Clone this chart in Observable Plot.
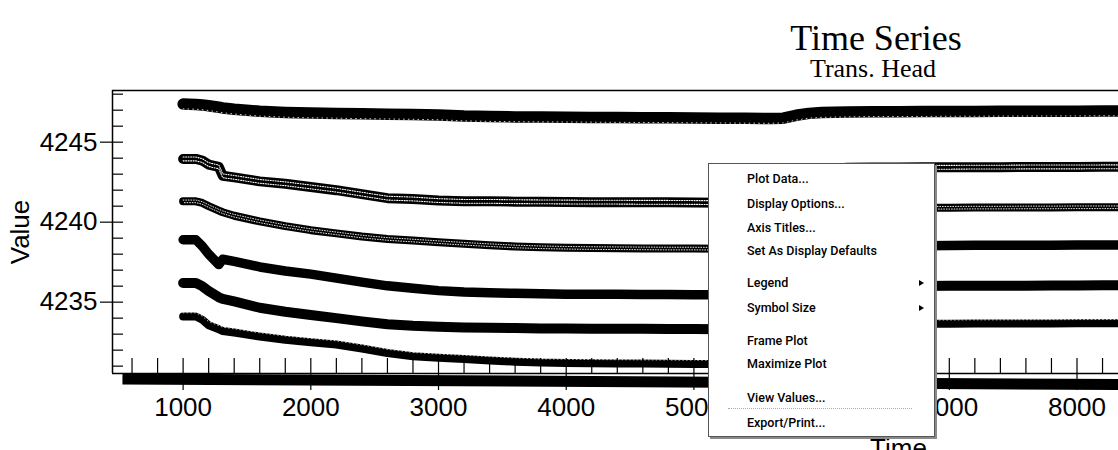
<!DOCTYPE html>
<html><head><meta charset="utf-8">
<script src="https://cdn.jsdelivr.net/npm/d3@7"></script>
<script src="https://cdn.jsdelivr.net/npm/@observablehq/plot@0.6"></script>
<style>
body{margin:0;background:#fff;}
#wrap{position:relative;width:1118px;height:450px;overflow:hidden;background:#fff;}
#title{position:relative;height:88px;}
#title div{position:absolute;width:400px;text-align:center;font-family:'Liberation Serif','Times New Roman',serif;line-height:0.8;color:#000;white-space:nowrap;}
#title .t1{left:676px;top:24px;font-size:36px;}
#title .t2{left:673px;top:58.5px;font-size:26px;}
#chart svg{display:block;}
#menu{position:absolute;left:708px;top:163px;width:225px;height:272px;border:1px solid #555;background:#fff;box-shadow:2px 2px 0 #8a8a8a;font-family:Roboto,'Open Sans',sans-serif;font-weight:500;font-size:12.5px;color:#000;}
#menu span.it{position:absolute;left:38px;line-height:1;white-space:nowrap;}
#menu i.ar{position:absolute;left:210px;width:0;height:0;border-left:5px solid #000;border-top:3.5px solid transparent;border-bottom:3.5px solid transparent;}
#menu .sep{position:absolute;left:19px;top:244px;width:184px;border-top:1px dotted #aaa;}
</style></head><body>
<div id="wrap">
  <div id="title"><div class="t1">Time Series</div><div class="t2">Trans. Head</div></div>
  <div id="chart"></div>
  <div id="menu"></div>
</div>
<script>
// ---- data ----
const TIMES = [1000,1100,1150,1200,1280,1310,1400,1600,1800,2000,2200,2400,2600,2800,3000,3200,3400,3600,3800,4000,4200,4400,4600,4800,5000,5200,5400,5600,5700,5800,5900,6000,6200,6400,6600,6800,7000,7200,7400,7600,7800,8000,8200,8400];
const S1 = [4247.38,4247.36,4247.33,4247.28,4247.18,4247.14,4247.06,4246.93,4246.86,4246.82,4246.8,4246.77,4246.75,4246.73,4246.7,4246.63,4246.6,4246.58,4246.57,4246.56,4246.55,4246.54,4246.53,4246.52,4246.51,4246.5,4246.49,4246.48,4246.5,4246.68,4246.8,4246.85,4246.88,4246.9,4246.9,4246.91,4246.92,4246.92,4246.93,4246.93,4246.94,4246.94,4246.95,4246.95];
const S2 = [4243.95,4243.95,4243.85,4243.6,4243.45,4242.9,4242.8,4242.55,4242.4,4242.2,4242.0,4241.75,4241.5,4241.45,4241.35,4241.3,4241.3,4241.28,4241.27,4241.26,4241.25,4241.25,4241.24,4241.24,4241.23,4241.22,4241.22,4241.2,4241.3,4242.2,4243.0,4243.3,4243.4,4243.42,4243.42,4243.43,4243.43,4243.44,4243.44,4243.45,4243.45,4243.45,4243.46,4243.46];
const S3 = [4241.3,4241.3,4241.2,4241.0,4240.72,4240.62,4240.4,4240.05,4239.75,4239.5,4239.3,4239.1,4238.95,4238.85,4238.75,4238.65,4238.56,4238.48,4238.43,4238.4,4238.38,4238.37,4238.36,4238.35,4238.35,4238.34,4238.33,4238.33,4238.4,4239.3,4240.3,4240.7,4240.85,4240.88,4240.9,4240.9,4240.9,4240.91,4240.91,4240.92,4240.92,4240.93,4240.93,4240.93];
const S4 = [4238.9,4238.9,4238.5,4238.0,4237.35,4237.68,4237.55,4237.2,4236.95,4236.75,4236.5,4236.25,4236.02,4235.87,4235.72,4235.63,4235.58,4235.55,4235.52,4235.5,4235.5,4235.49,4235.48,4235.48,4235.47,4235.47,4235.46,4235.45,4235.5,4236.6,4237.7,4238.2,4238.45,4238.5,4238.52,4238.53,4238.54,4238.55,4238.55,4238.56,4238.56,4238.57,4238.57,4238.58];
const S5 = [4236.2,4236.2,4236.0,4235.7,4235.3,4235.2,4235.05,4234.65,4234.4,4234.2,4234.0,4233.8,4233.62,4233.52,4233.46,4233.42,4233.4,4233.38,4233.36,4233.35,4233.34,4233.33,4233.33,4233.32,4233.32,4233.31,4233.31,4233.3,4233.35,4234.4,4235.4,4235.8,4235.95,4236.0,4236.0,4236.01,4236.02,4236.02,4236.03,4236.03,4236.04,4236.04,4236.05,4236.05];
const S6 = [4234.1,4234.1,4233.9,4233.55,4233.3,4233.2,4233.1,4232.85,4232.65,4232.5,4232.35,4232.1,4231.82,4231.62,4231.52,4231.45,4231.36,4231.28,4231.22,4231.2,4231.18,4231.17,4231.16,4231.15,4231.14,4231.13,4231.12,4231.1,4231.15,4232.3,4233.2,4233.5,4233.6,4233.63,4233.64,4233.65,4233.65,4233.66,4233.66,4233.67,4233.67,4233.68,4233.68,4233.68];
const BASE_TIMES = [525, 8400];
const BASE_VALUES = [4230.2, 4229.85];

const X_DOMAIN = [447, 8325];
const Y_DOMAIN = [4230.54, 4248.23];
const X_MAJOR = [1000,2000,3000,4000,5000,6000,7000,8000];
const X_HIDDEN_LABELS = [6000]; // fully covered by the popup menu in the reference
const X_MINOR = d3.range(600, 8400, 200);
const Y_MAJOR = [4235, 4240, 4245];
const Y_MINOR = d3.range(4231, 4249, 1);

const MENU_ITEMS = ["Plot Data...","Display Options...","Axis Titles...","Set As Display Defaults","Legend","Symbol Size","Frame Plot","Maximize Plot","View Values...","Export/Print..."];
const MENU_SUB = ["Legend","Symbol Size"];

// ---- build ----
const rows = (vals) => TIMES.map((t, i) => ({t, v: vals[i]}));
const base = BASE_TIMES.map((t, i) => ({t, v: BASE_VALUES[i]}));
const r1 = rows(S1), r2 = rows(S2), r3 = rows(S3), r4 = rows(S4), r5 = rows(S5), r6 = rows(S6);

const chart = Plot.plot({
  width: 1118, height: 362,
  marginLeft: 112, marginRight: 0, marginTop: 2, marginBottom: 77,
  x: {domain: X_DOMAIN, label: null},
  y: {domain: Y_DOMAIN, label: null},
  style: {fontFamily: "'Liberation Sans', Arial, sans-serif", fontSize: "26px", color: "black", background: "white", overflow: "visible"},
  marks: [
    Plot.line(base, {x: "t", y: "v", stroke: "black", strokeWidth: 11, strokeLinecap: "butt"}),
    // series 1: filled triangles
    Plot.line(r1, {x: "t", y: "v", stroke: "black", strokeWidth: 11.5}),
    Plot.line(r1, {x: "t", y: "v", stroke: "white", strokeWidth: 0.8, strokeDasharray: "0.8,4", dy: 4.8}),
    // series 2: squares with cross
    Plot.line(r2, {x: "t", y: "v", stroke: "black", strokeWidth: 10}),
    Plot.line(r2, {x: "t", y: "v", stroke: "white", strokeWidth: 1.1, strokeDasharray: "1,1.5", dy: -1.9}),
    Plot.line(r2, {x: "t", y: "v", stroke: "white", strokeWidth: 1.1, strokeDasharray: "1,1.5", dy: 1.9}),
    // series 3: open triangles
    Plot.line(r3, {x: "t", y: "v", stroke: "black", strokeWidth: 8}),
    Plot.line(r3, {x: "t", y: "v", stroke: "white", strokeWidth: 0.9, strokeDasharray: "0.8,1.8", dy: -1.3}),
    Plot.line(r3, {x: "t", y: "v", stroke: "white", strokeWidth: 0.9, strokeDasharray: "0.8,1.8", dy: 1.3, strokeDashoffset: 1.3}),
    // series 4: filled circles
    Plot.line(r4, {x: "t", y: "v", stroke: "black", strokeWidth: 9.5}),
    // series 5: filled squares
    Plot.line(r5, {x: "t", y: "v", stroke: "black", strokeWidth: 10}),
    // series 6
    Plot.line(r6, {x: "t", y: "v", stroke: "black", strokeWidth: 8}),
    Plot.line(r6, {x: "t", y: "v", stroke: "white", strokeWidth: 0.7, strokeDasharray: "0.8,3", dy: -3.7}),
    // frame
    Plot.ruleY([Y_DOMAIN[1]], {stroke: "black", strokeWidth: 1.5}),
    Plot.ruleY([Y_DOMAIN[0]], {stroke: "black", strokeWidth: 1.5}),
    Plot.ruleX([X_DOMAIN[0]], {stroke: "black", strokeWidth: 1.5}),
    // axes
    Plot.axisY(Y_MINOR, {anchor: "left", tickSize: -11, text: null, label: null, strokeWidth: 1.2}),
    Plot.axisY(Y_MAJOR, {anchor: "left", tickSize: 12, tickPadding: 3, tickFormat: "d", fontSize: 26, label: null, strokeWidth: 1.2}),
    Plot.axisX(X_MINOR, {anchor: "bottom", tickSize: -15, text: null, label: null, strokeWidth: 1.2}),
    Plot.axisX(X_MAJOR, {anchor: "bottom", tickSize: 17, tickPadding: 7, tickFormat: d => X_HIDDEN_LABELS.includes(d) ? "" : String(d), fontSize: 26, label: null, strokeWidth: 1.2}),
    Plot.text(["Value"], {frameAnchor: "left", rotate: -90, dx: -92, textAnchor: "middle", lineAnchor: "middle", fontSize: 26}),
    Plot.text(["Time"], {frameAnchor: "bottom", dx: 283, dy: 75, textAnchor: "middle", lineAnchor: "middle", fontSize: 26})
  ]
});
document.getElementById("chart").appendChild(chart);

// context menu (overlay)
const menu = document.getElementById("menu");
const baselines = [183, 208, 232, 255, 287, 312, 345, 368, 402, 427];
MENU_ITEMS.forEach((label, i) => {
  const s = document.createElement("span");
  s.className = "it";
  s.textContent = label;
  s.style.top = (baselines[i] - 10.5 - 164) + "px";
  menu.appendChild(s);
  if (MENU_SUB.includes(label)) {
    const a = document.createElement("i");
    a.className = "ar";
    a.style.top = (baselines[i] - 4 - 164 - 3.5) + "px";
    menu.appendChild(a);
  }
});
const sep = document.createElement("div");
sep.className = "sep";
menu.appendChild(sep);
</script>
</body></html>
